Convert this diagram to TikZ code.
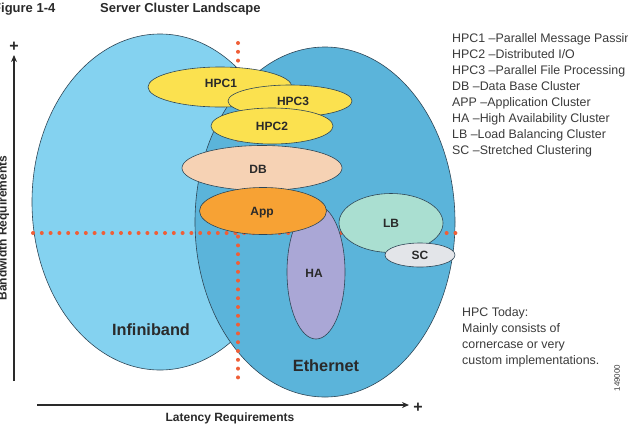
\documentclass[tikz,border=0pt]{standalone}
\usepackage{fontspec}
\setmainfont{Liberation Sans}
\usetikzlibrary{shapes.geometric,arrows.meta}
\definecolor{infcol}{HTML}{84D2F0}
\definecolor{ethcol}{HTML}{5BB4DA}
\definecolor{hpccol}{HTML}{FBE14F}
\definecolor{dbcol}{HTML}{F6D2B4}
\definecolor{appcol}{HTML}{F7A234}
\definecolor{hacol}{HTML}{AAA7D6}
\definecolor{lbcol}{HTML}{AADFD1}
\definecolor{sccol}{HTML}{E3E5E9}
\definecolor{dotcol}{HTML}{EF5F38}
\definecolor{edgecol}{HTML}{2E4656}
\definecolor{txtcol}{HTML}{2A2A2A}
\definecolor{legcol}{HTML}{3A3A3A}
\begin{document}
\begin{tikzpicture}[x=1pt,y=-1pt,
  blob/.style={ellipse,draw=edgecol,line width=0.6pt,inner sep=0pt,text=txtcol,font=\bfseries\fontsize{12}{14}\selectfont},
  lab/.style={text=txtcol,font=\bfseries\fontsize{12}{14}\selectfont},
  big/.style={font=\bfseries\fontsize{16.3}{18}\selectfont,text=txtcol},
  dotline/.style={draw=dotcol,line width=4pt,line cap=round,dash pattern=on 0pt off 8.8pt},
  axis/.style={draw=txtcol,line width=1.5pt},
  legend/.style={anchor=north west,align=left,text=legcol,font=\fontsize{12.4}{16}\selectfont,inner sep=0pt}]
\useasboundingbox (0,0) rectangle (628,426);
% big ellipses
\node[blob,fill=infcol,minimum width=256pt,minimum height=336pt] (inf) at (160,202) {};
\node[blob,fill=ethcol,minimum width=260pt,minimum height=350pt] (eth) at (325,222) {};
\node[big] (inflab) at (151,330) {Infiniband};
\node[big] (ethlab) at (326,366) {Ethernet};
% dotted quadrant lines
\coordinate (hl) at (33,233);
\coordinate (hr) at (460,233);
\coordinate (vt) at (238,43);
\coordinate (vb) at (238,381);
\draw[dotline] (hl) -- (hr);
\draw[dotline] (vt) -- (vb);
% clusters
\node[blob,fill=hpccol,minimum width=144pt,minimum height=40pt] (hpc1) at (220,87) {};
\node[lab] (hpc1l) at (221,83) {HPC1};
\node[blob,fill=hpccol,minimum width=124pt,minimum height=32pt] (hpc3) at (290,101) {};
\node[lab] (hpc3l) at (293,101) {HPC3};
\node[blob,fill=hpccol,minimum width=122pt,minimum height=36pt] (hpc2) at (272,126) {HPC2};
\node[blob,fill=dbcol,minimum width=160pt,minimum height=45pt] (db) at (262,168) {};
\node[lab] (dbl) at (258,169) {DB};
\node[blob,fill=hacol,minimum width=58pt,minimum height=134pt] (ha) at (316,272) {};
\node[lab] (hal) at (314,273) {HA};
\node[blob,fill=appcol,minimum width=127pt,minimum height=47pt] (app) at (263,211) {};
\node[lab] (appl) at (262,213) {App};
\node[blob,fill=lbcol,minimum width=104pt,minimum height=59pt] (lb) at (391,223) {LB};
\node[blob,fill=sccol,minimum width=70pt,minimum height=24pt] (sc) at (420,255) {SC};
% axes
\coordinate (yb) at (14,381);
\coordinate (yt) at (14,55);
\coordinate (xl) at (37,405);
\coordinate (xr) at (409,405);
\draw[axis,-{Stealth[length=7pt,width=6pt]}] (yb) -- (yt);
\draw[axis,-{Stealth[length=7pt,width=6pt]}] (xl) -- (xr);
\node[font=\bfseries\fontsize{16}{16}\selectfont,text=txtcol] (yplus) at (14,47) {+};
\node[font=\bfseries\fontsize{16}{16}\selectfont,text=txtcol] (xplus) at (418,408) {+};
\node[lab] (xlab) at (230,418) {Latency Requirements};
\node[lab,rotate=90,anchor=base,inner sep=0pt] (ylab) at (6.5,228) {Bandwidth Requirements};
% title
\node[font=\bfseries\fontsize{13}{15}\selectfont,anchor=base west,inner sep=0pt,text=txtcol] (fig) at (-7,12) {Figure 1-4};
\node[font=\bfseries\fontsize{13}{15}\selectfont,anchor=base west,inner sep=0pt,text=txtcol] (title) at (100,12) {Server Cluster Landscape};
% legend
\node[legend] (leg) at (452,33) {HPC1 –Parallel Message Passing\\HPC2 –Distributed I/O\\HPC3 –Parallel File Processing\\DB –Data Base Cluster\\APP –Application Cluster\\HA –High Availability Cluster\\LB –Load Balancing Cluster\\SC –Stretched Clustering};
\node[legend] (today) at (462,307) {HPC Today:\\Mainly consists of\\cornercase or very\\custom implementations.};
\node[font=\fontsize{8}{8}\selectfont,rotate=90,text=legcol] (num) at (617,378) {149000};
\end{tikzpicture}
\end{document}
